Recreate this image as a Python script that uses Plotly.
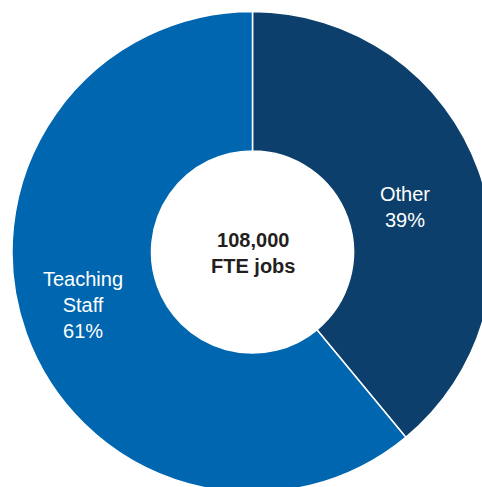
import plotly.graph_objects as go

# Share of full-time-equivalent jobs by role
labels = ["Other", "Teaching Staff"]
label_lines = [["Other"], ["Teaching", "Staff"]]
shares = [39, 61]
total_jobs = 108000

colors = ["#0C3F6B", "#0066B0"]

W, H = 500, 500

fig = go.Figure(
    go.Pie(
        labels=labels,
        values=shares,
        hole=0.42,
        sort=False,
        direction="clockwise",
        rotation=0,
        marker=dict(colors=colors, line=dict(color="white", width=1.5)),
        textinfo="none",
        hoverinfo="label+percent",
        showlegend=False,
        domain=dict(x=[12 / W, 493 / W], y=[1 - 492.5 / H, 1 - 11.5 / H]),
    )
)

font_family = "Liberation Sans, Arial, Helvetica, sans-serif"

# slice labels: name lines followed by the share
label_pos = [(405, 207), (83, 305)]
for lines, share, (px, py) in zip(label_lines, shares, label_pos):
    text = "<br>".join(lines + [f"{share}%"])
    fig.add_annotation(
        x=px / W, y=1 - py / H, xref="paper", yref="paper",
        text=text, showarrow=False, align="center",
        xanchor="center", yanchor="middle",
        font=dict(family=font_family, size=20, color="white"),
    )

# centre total
fig.add_annotation(
    x=253 / W, y=1 - 253 / H, xref="paper", yref="paper",
    text=f"<b>{total_jobs:,}</b><br><b>FTE jobs</b>",
    showarrow=False, align="center",
    xanchor="center", yanchor="middle",
    font=dict(family=font_family, size=20, color="#231F20"),
)

fig.update_layout(
    width=W, height=H,
    margin=dict(l=0, r=0, t=0, b=0),
    paper_bgcolor="white",
    plot_bgcolor="white",
)

fig.write_html("out.html")
